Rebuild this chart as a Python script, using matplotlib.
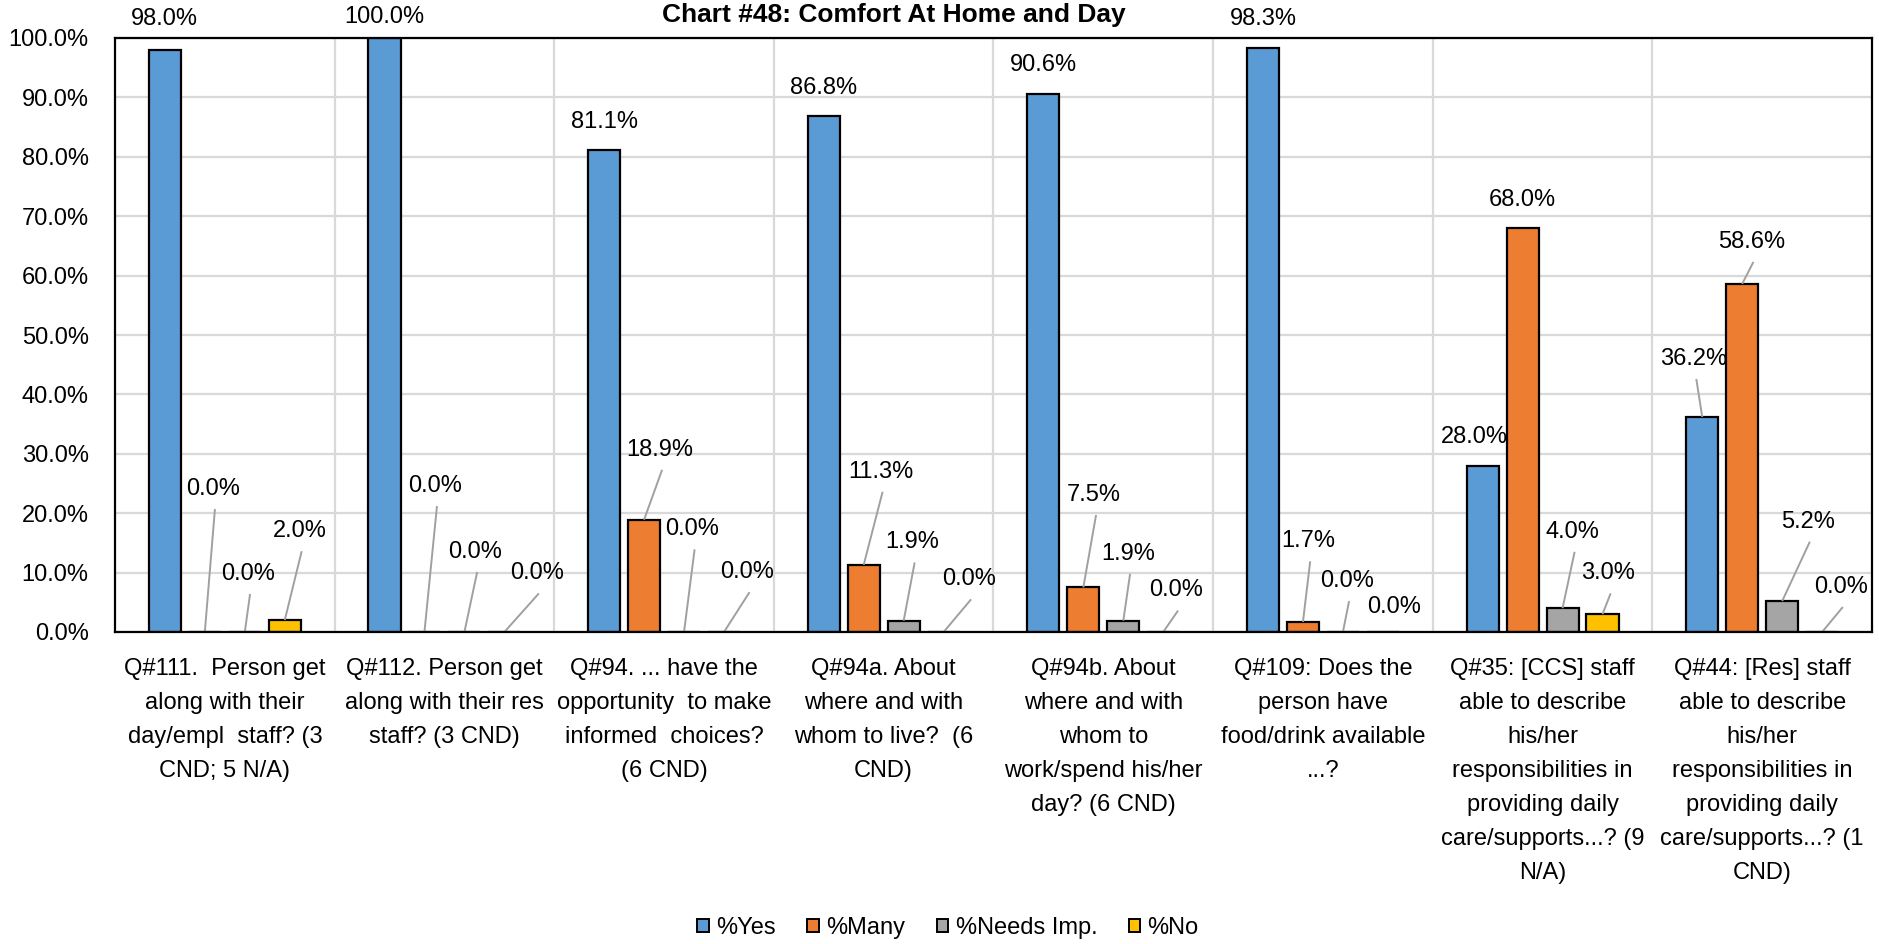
import matplotlib
matplotlib.use('Agg')
import matplotlib.pyplot as plt
from matplotlib import font_manager
from matplotlib.patches import Patch
from matplotlib.ticker import FuncFormatter, MultipleLocator

# ---------------- data ----------------
categories = [
    "Q#111.  Person get\nalong with their\nday/empl  staff? (3\nCND; 5 N/A)",
    "Q#112. Person get\nalong with their res\nstaff? (3 CND)",
    "Q#94. ... have the\nopportunity  to make\ninformed  choices?\n(6 CND)",
    "Q#94a. About\nwhere and with\nwhom to live?  (6\nCND)",
    "Q#94b. About\nwhere and with\nwhom to\nwork/spend his/her\nday? (6 CND)",
    "Q#109: Does the\nperson have\nfood/drink available\n...?",
    "Q#35: [CCS] staff\nable to describe\nhis/her\nresponsibilities in\nproviding daily\ncare/supports...? (9\nN/A)",
    "Q#44: [Res] staff\nable to describe\nhis/her\nresponsibilities in\nproviding daily\ncare/supports...? (1\nCND)",
]
series_names = ["%Yes", "%Many", "%Needs Imp.", "%No"]
yes_vals = [98.0, 100.0, 81.1, 86.8, 90.6, 98.3, 28.0, 36.2]
many_vals = [0.0, 0.0, 18.9, 11.3, 7.5, 1.7, 68.0, 58.6]
needs_vals = [0.0, 0.0, 0.0, 1.9, 1.9, 0.0, 4.0, 5.2]
no_vals = [2.0, 0.0, 0.0, 0.0, 0.0, 0.0, 3.0, 0.0]
title = "Chart #48: Comfort At Home and Day"

# ---------------- style / layout ----------------
colors = ["#5B9BD5", "#ED7D31", "#A5A5A5", "#FFC000"]
offsets = [-0.273, -0.091, 0.091, 0.273]
bar_w = 0.146
label_gap = 4.8  # % above bar for default labels

# label placement (dx from category centre, y in %, leader line?) ; None = default above bar
label_layout = [
    [(-0.273, 103.2, False), (-0.273, 103.5, False), None, None, None,
     (-0.273, 103.2, False), (-0.31, None, False), (-0.31, 46.0, True)],
    [(-0.055, 24.1, True), (-0.044, 24.6, True), (-0.019, 30.7, True), (-0.015, 27.0, True),
     (-0.043, 23.1, True), (-0.068, 15.3, True), None, (-0.05, 65.7, True)],
    [(0.105, 9.8, True), (0.139, 13.5, True), (0.129, 17.3, True), (0.131, 15.1, True),
     (0.112, 13.2, True), (0.109, 8.6, True), (0.136, 16.9, True), (0.207, 18.6, True)],
    [(0.34, 17.0, True), (0.42, 9.9, True), (0.379, 10.1, True), (0.388, 8.9, True),
     (0.33, 7.0, True), (0.326, 4.2, False), (0.30, 9.9, True), (0.357, 7.6, True)],
]

names = {f.name for f in font_manager.fontManager.ttflist}
family = "Liberation Sans Narrow" if "Liberation Sans Narrow" in names else "Liberation Sans"
plt.rcParams["font.family"] = [family, "DejaVu Sans"]
FS = 20 if family == "Liberation Sans Narrow" else 17

W, H = 1879, 944
fig = plt.figure(figsize=(W / 100, H / 100), dpi=100)
ax = fig.add_axes([115 / W, 1 - 632 / H, (1872 - 115) / W, (632 - 38) / H])

series = [yes_vals, many_vals, needs_vals, no_vals]
xs = list(range(len(categories)))
for s, vals in enumerate(series):
    ax.bar([x + offsets[s] for x in xs], vals, width=bar_w, color=colors[s],
           edgecolor="black", linewidth=1.6, zorder=3, label=series_names[s])
    for i, v in enumerate(vals):
        bx = i + offsets[s]
        lay = label_layout[s][i]
        if lay is None:
            lx, ly, leader = bx, v + label_gap, False
        else:
            lx = i + lay[0]
            ly = v + label_gap if lay[1] is None else lay[1]
            leader = lay[2]
        ax.text(lx, ly, f"{v:.1f}%", ha="center", va="center", fontsize=FS,
                color="black", zorder=5, clip_on=False)
        if leader:
            ax.plot([lx + 0.01, bx], [ly - 3.4, v], color="#A0A0A0", lw=1.4,
                    zorder=4, solid_capstyle="butt")

ax.set_xlim(-0.5, len(categories) - 0.5)
ax.set_ylim(0, 100)
ax.yaxis.set_major_locator(MultipleLocator(10))
ax.yaxis.set_major_formatter(FuncFormatter(lambda v, p: f"{v:.1f}%"))
ax.set_xticks(xs)
ax.set_xticklabels(categories, fontsize=FS)
for t in ax.get_xticklabels():
    t.set_linespacing(1.7)
ax.set_xticks([x + 0.5 for x in xs[:-1]], minor=True)
ax.tick_params(axis="both", which="both", length=0)
ax.tick_params(axis="x", pad=19)
ax.tick_params(axis="y", pad=19, labelsize=FS)
ax.grid(axis="y", which="major", color="#D9D9D9", lw=1.6, zorder=0)
ax.grid(axis="x", which="minor", color="#D9D9D9", lw=1.6, zorder=0)
ax.set_axisbelow(True)
for sp in ax.spines.values():
    sp.set_color("black")
    sp.set_linewidth(1.6)
    sp.set_zorder(6)

fig.text(894 / W, 1 - 22 / H, title, ha="center", va="baseline",
         fontsize=FS + 2, fontweight="bold")

handles = [Patch(facecolor=c, edgecolor="black", linewidth=1.4) for c in colors]
fig.legend(handles, series_names, loc="center", bbox_to_anchor=(948 / W, 1 - 928 / H),
           ncol=4, frameon=False, fontsize=FS, handlelength=0.5, handleheight=0.5,
           handletextpad=0.3, columnspacing=1.33, borderpad=0)

fig.savefig("out.png", dpi=100)
